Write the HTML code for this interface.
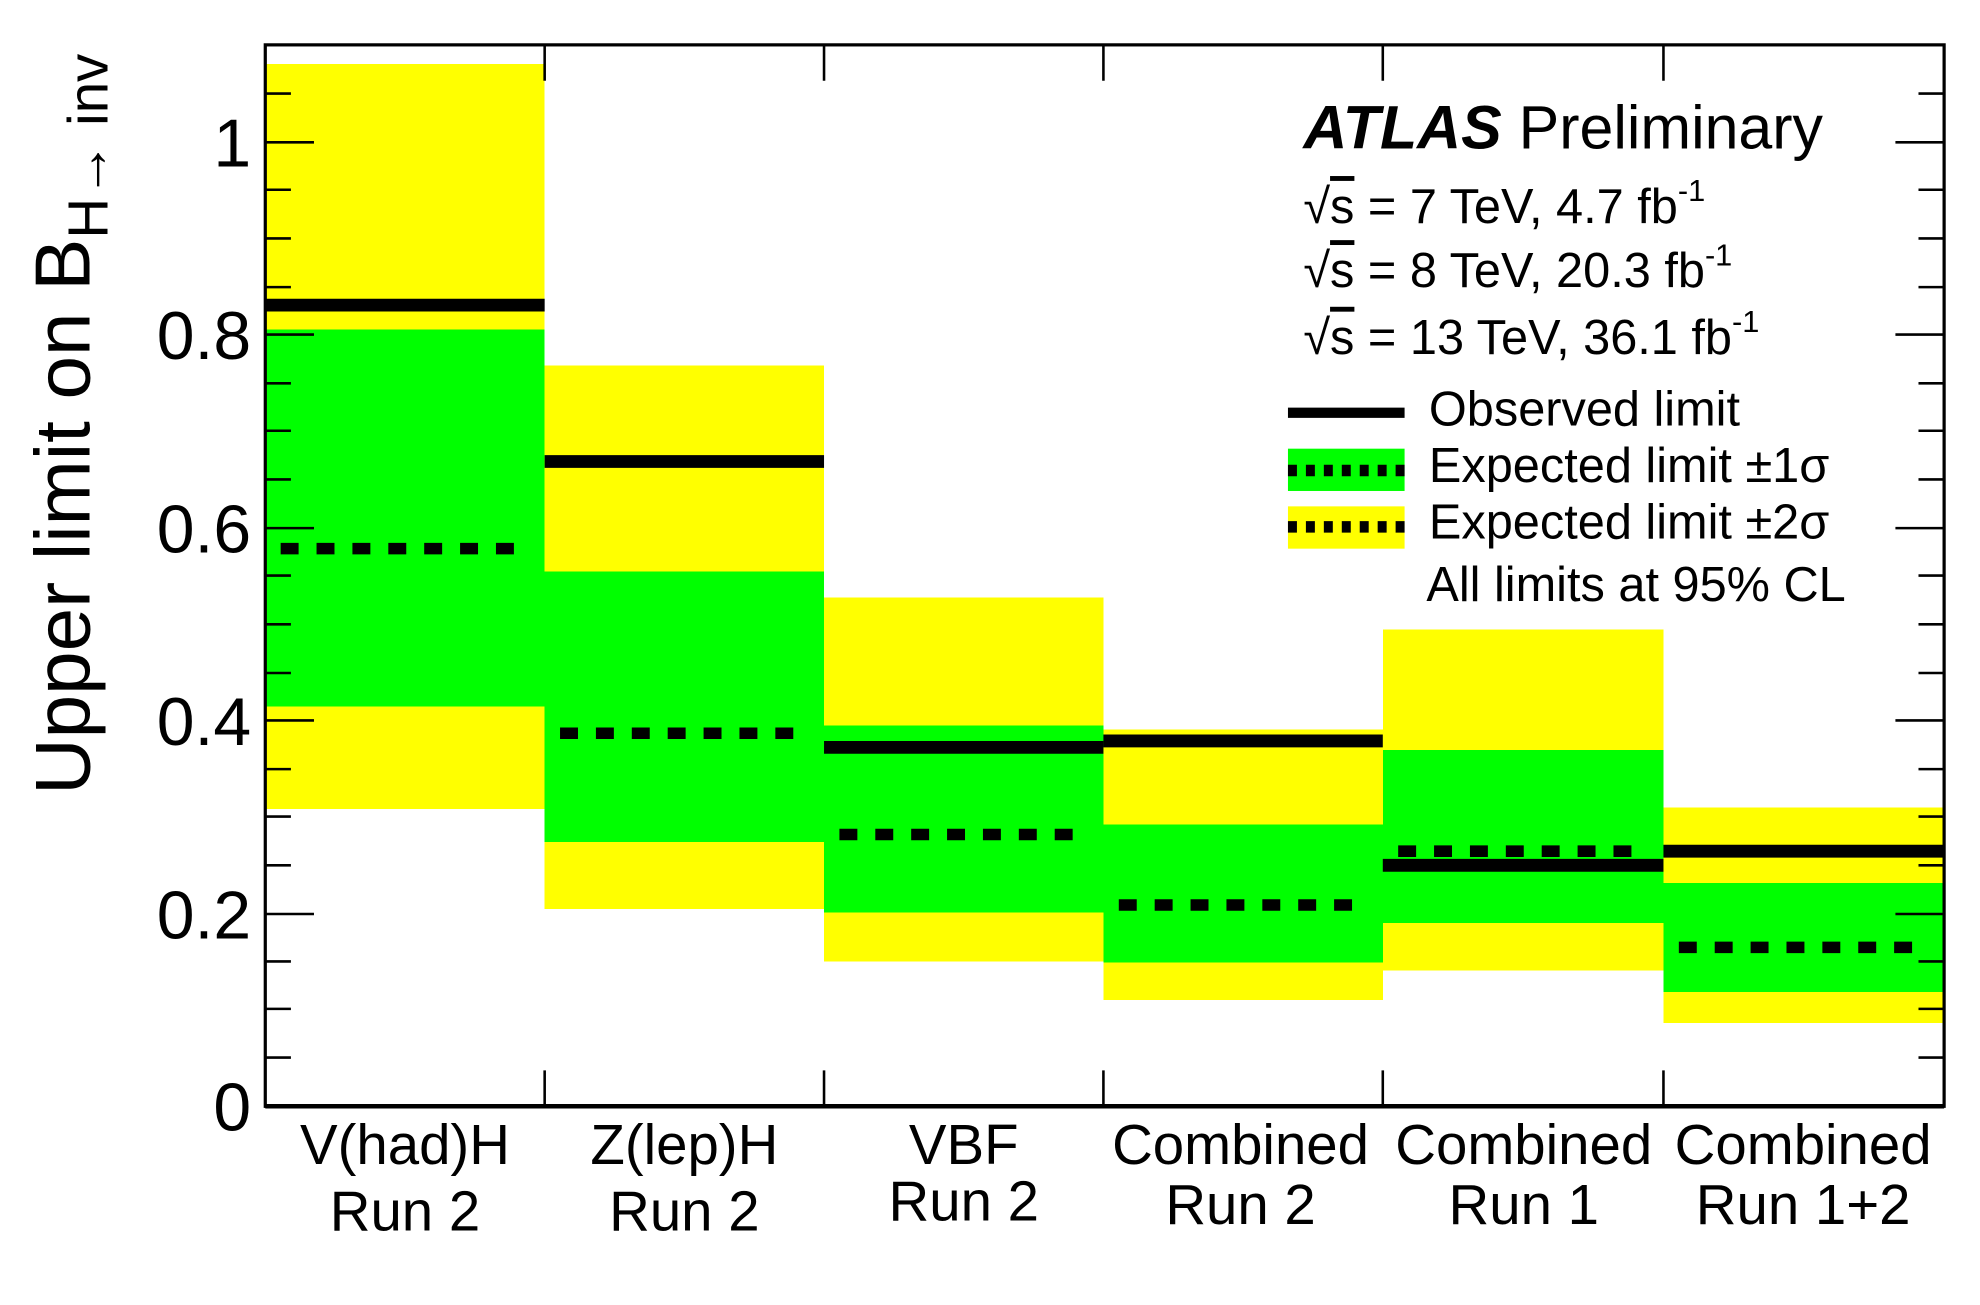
<!DOCTYPE html>
<html><head><meta charset="utf-8"><style>
html,body{margin:0;padding:0;background:#fff;}
svg{display:block;}
text{font-family:"Liberation Sans",sans-serif;fill:#000;}
</style></head><body>
<svg width="1980" height="1305" viewBox="0 0 1545 1018" preserveAspectRatio="none" xmlns="http://www.w3.org/2000/svg">
<g shape-rendering="crispEdges">
<rect x="207" y="50" width="218" height="581" fill="#ffff00"/>
<rect x="207" y="257" width="218" height="294" fill="#00ff00"/>
<rect x="425" y="285" width="218" height="424" fill="#ffff00"/>
<rect x="425" y="446" width="218" height="211" fill="#00ff00"/>
<rect x="643" y="466" width="218" height="284" fill="#ffff00"/>
<rect x="643" y="566" width="218" height="146" fill="#00ff00"/>
<rect x="861" y="569" width="218" height="211" fill="#ffff00"/>
<rect x="861" y="643" width="218" height="108" fill="#00ff00"/>
<rect x="1079" y="491" width="219" height="266" fill="#ffff00"/>
<rect x="1079" y="585" width="219" height="135" fill="#00ff00"/>
<rect x="1298" y="630" width="219" height="168" fill="#ffff00"/>
<rect x="1298" y="689" width="219" height="85" fill="#00ff00"/>
</g>
<g stroke="#000" stroke-width="10">
<line x1="207" y1="238" x2="425" y2="238"/>
<line x1="425" y1="360" x2="643" y2="360"/>
<line x1="643" y1="583" x2="861" y2="583"/>
<line x1="861" y1="578" x2="1079" y2="578"/>
<line x1="1079" y1="675" x2="1298" y2="675"/>
<line x1="1298" y1="664" x2="1517" y2="664"/>
</g>
<g stroke="#000" stroke-width="9" stroke-dasharray="14 14">
<line x1="219" y1="428" x2="413" y2="428"/>
<line x1="437" y1="572" x2="631" y2="572"/>
<line x1="655" y1="651" x2="849" y2="651"/>
<line x1="873" y1="706" x2="1067" y2="706"/>
<line x1="1091" y1="664" x2="1286" y2="664"/>
<line x1="1310" y1="739" x2="1505" y2="739"/>
</g>
<rect x="207" y="35" width="1310" height="828" fill="none" stroke="#000" stroke-width="2.5"/>
<line x1="207" y1="863" x2="1517" y2="863" stroke="#000" stroke-width="3.5"/>
<g stroke="#000" stroke-width="2">
<path d="M425 863v-28M643 863v-28M861 863v-28M1079 863v-28M1298 863v-28M425 35v28M643 35v28M861 35v28M1079 35v28M1298 35v28"/>
<path d="M207 863h38M207 713h38M207 562h38M207 412h38M207 261h38M207 111h38M1517 713h-38M1517 562h-38M1517 412h-38M1517 261h-38M1517 111h-38"/>
<path d="M207 825h20M207 787h20M207 750h20M207 675h20M207 637h20M207 600h20M207 525h20M207 487h20M207 449h20M207 374h20M207 336h20M207 299h20M207 224h20M207 186h20M207 148h20M207 73h20
M1517 825h-20M1517 787h-20M1517 750h-20M1517 675h-20M1517 637h-20M1517 600h-20M1517 525h-20M1517 487h-20M1517 449h-20M1517 374h-20M1517 336h-20M1517 299h-20M1517 224h-20M1517 186h-20M1517 148h-20M1517 73h-20"/>
</g>
<g font-size="53" text-anchor="end">
<text x="196" y="882">0</text>
<text x="196" y="732">0.2</text>
<text x="196" y="581">0.4</text>
<text x="196" y="431">0.6</text>
<text x="196" y="280">0.8</text>
<text x="196" y="130">1</text>
</g>
<text transform="translate(70,620) rotate(-90)" font-size="61">Upper limit on B<tspan font-size="44" dy="14">H→ inv</tspan></text>
<g font-size="44" text-anchor="middle">
<text x="316" y="908">V(had)H</text><text x="316" y="960">Run 2</text>
<text x="534" y="908">Z(lep)H</text><text x="534" y="960">Run 2</text>
<text x="752" y="908">VBF</text><text x="752" y="952">Run 2</text>
<text x="968" y="908">Combined</text><text x="968" y="955">Run 2</text>
<text x="1189" y="908">Combined</text><text x="1189" y="955">Run 1</text>
<text x="1407" y="908">Combined</text><text x="1407" y="955">Run 1+2</text>
</g>
<text x="1017" y="116" font-size="47.5"><tspan font-weight="bold" font-style="italic">ATLAS</tspan> Preliminary</text>
<g font-size="38">
<text x="1017" y="174">√<tspan text-decoration="overline">s</tspan> = 7 TeV, 4.7 fb<tspan font-size="24" dy="-17">-1</tspan></text>
<text x="1017" y="224">√<tspan text-decoration="overline">s</tspan> = 8 TeV, 20.3 fb<tspan font-size="24" dy="-17">-1</tspan></text>
<text x="1017" y="276">√<tspan text-decoration="overline">s</tspan> = 13 TeV, 36.1 fb<tspan font-size="24" dy="-17">-1</tspan></text>
<text x="1115" y="332">Observed limit</text>
<text x="1115" y="376">Expected limit ±1σ</text>
<text x="1115" y="420">Expected limit ±2σ</text>
<text x="1113" y="469">All limits at 95% CL</text>
</g>
<line x1="1005" y1="322" x2="1096" y2="322" stroke="#000" stroke-width="8"/>
<rect x="1005" y="350" width="91" height="33" fill="#00ff00"/>
<rect x="1005" y="395" width="91" height="33" fill="#ffff00"/>
<g stroke="#000" stroke-width="9" stroke-dasharray="7 7">
<line x1="1005" y1="367" x2="1096" y2="367"/>
<line x1="1005" y1="411" x2="1096" y2="411"/>
</g>
</svg>
</body></html>
